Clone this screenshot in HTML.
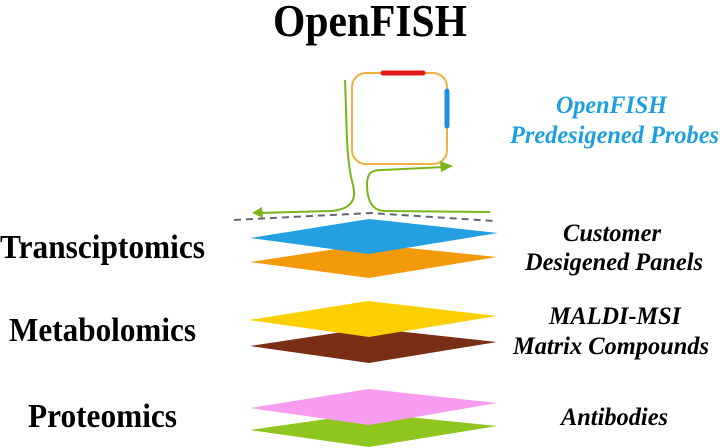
<!DOCTYPE html>
<html><head><meta charset="utf-8"><style>
html,body{margin:0;padding:0;background:#fff;width:720px;height:448px;overflow:hidden}
svg{display:block}
text{font-family:"Liberation Serif",serif;font-weight:bold}
.r{font-style:italic;font-size:25px}
</style></head><body>
<svg width="720" height="448" viewBox="0 0 720 448">
<text x="273" y="36" font-size="46" textLength="194" lengthAdjust="spacingAndGlyphs">OpenFISH</text>
<rect x="352" y="73" width="95" height="91" rx="14" fill="none" stroke="#f0b040" stroke-width="2"/>
<line x1="383" y1="73" x2="423" y2="73" stroke="#e01818" stroke-width="5" stroke-linecap="round"/>
<line x1="447" y1="91" x2="447" y2="126" stroke="#1e8fd8" stroke-width="5" stroke-linecap="round"/>
<path d="M345 80 C347 130,346 160,353 185 C358 205,345 210,330 211 L258 213" fill="none" stroke="#7ab51d" stroke-width="2"/>
<path d="M262 207 L252 213 L263 218 Z" fill="#7ab51d"/>
<path d="M490 212 L385 211 C372 211,367 200,367 185 C367 172,372 170,382 170 L445 167" fill="none" stroke="#7ab51d" stroke-width="2"/>
<path d="M440 161 L453 166 L441 172 Z" fill="#7ab51d"/>
<path d="M234 220 L370 213 L495 221" fill="none" stroke="#606878" stroke-width="2" stroke-dasharray="7,5"/>
<polygon points="250,262 369,244 497,257 369,278" fill="#f29a0a"/>
<polygon points="250,238 369,219 498,233 369,254" fill="#24a0e0"/>
<polygon points="250,346 369,328 497,342 369,363" fill="#7a2e16"/>
<polygon points="249,320 368,301 497,316 369,337" fill="#fcd000"/>
<polygon points="250,430 369,413 497,426 369,447" fill="#8ec51e"/>
<polygon points="250,408 369,389 497,403 369,425" fill="#f89cf0"/>
<text x="0" y="258" font-size="34" textLength="205" lengthAdjust="spacingAndGlyphs">Transciptomics</text>
<text x="9" y="341" font-size="34" textLength="187" lengthAdjust="spacingAndGlyphs">Metabolomics</text>
<text x="28" y="427" font-size="34" textLength="149" lengthAdjust="spacingAndGlyphs">Proteomics</text>
<text class="r" x="556" y="113" fill="#1ea0e0" textLength="111" lengthAdjust="spacingAndGlyphs">OpenFISH</text>
<text class="r" x="510" y="143" fill="#1ea0e0" textLength="209" lengthAdjust="spacingAndGlyphs">Predesigened Probes</text>
<text class="r" x="563" y="241" textLength="98" lengthAdjust="spacingAndGlyphs">Customer</text>
<text class="r" x="525" y="270" textLength="178" lengthAdjust="spacingAndGlyphs">Desigened Panels</text>
<text class="r" x="549" y="324" textLength="132" lengthAdjust="spacingAndGlyphs">MALDI-MSI</text>
<text class="r" x="513" y="354" textLength="196" lengthAdjust="spacingAndGlyphs">Matrix Compounds</text>
<text class="r" x="561" y="425" textLength="107" lengthAdjust="spacingAndGlyphs">Antibodies</text>
</svg>
</body></html>
